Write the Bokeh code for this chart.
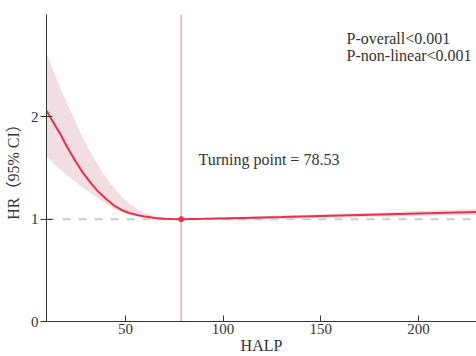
from bokeh.plotting import figure
from bokeh.models import Span, Range1d, FixedTicker, Label
from bokeh.embed import file_html
from bokeh.resources import INLINE

halp = [9.6, 13, 17, 20, 24, 28, 32, 36, 40, 44, 48, 52, 56, 60, 65, 70, 74, 78.53,
        90, 110, 130, 150, 170, 190, 210, 229.7]
hr = [2.06, 1.95, 1.82, 1.71, 1.58, 1.46, 1.36, 1.27, 1.20, 1.135, 1.09, 1.06, 1.04, 1.025,
      1.012, 1.005, 1.001, 1.0, 1.004, 1.012, 1.02, 1.03, 1.04, 1.05, 1.06, 1.07]
upper = [2.62, 2.45, 2.27, 2.14, 1.97, 1.80, 1.66, 1.53, 1.41, 1.31, 1.22, 1.15, 1.10, 1.06,
         1.03, 1.015, 1.005, 1.0, 1.01, 1.022, 1.035, 1.048, 1.06, 1.073, 1.087, 1.10]
lower = [1.61, 1.55, 1.48, 1.43, 1.37, 1.31, 1.26, 1.20, 1.15, 1.10, 1.07, 1.04, 1.025, 1.01,
         1.0, 0.995, 0.998, 1.0, 0.998, 1.0, 1.005, 1.012, 1.02, 1.027, 1.033, 1.04]
turning_point = 78.53
x_ticks = [50, 100, 150, 200]
y_ticks = [0, 1, 2]

FONT = "Liberation Serif"
LABEL_FONT = "'Liberation Serif', 'Noto Sans CJK SC'"

p = figure(width=476, height=356, output_backend="svg", toolbar_location=None,
           x_range=Range1d(9.6, 229.7), y_range=Range1d(0, 3.0),
           min_border_left=46, min_border_right=0, min_border_top=14, min_border_bottom=35)
p.outline_line_color = None
p.grid.visible = False
p.background_fill_color = "white"

p.add_layout(Span(location=1, dimension="width", line_color="#cccccc",
                  line_dash="8 8", line_width=2, level="underlay"))
p.add_layout(Span(location=turning_point, dimension="height", line_color="#eba2c8",
                  line_width=1.5, level="underlay"))
p.varea(x=halp, y1=lower, y2=upper, fill_color="#e6c3cb", fill_alpha=0.55)
p.line(halp, hr, line_color="#e8304a", line_width=2)
p.scatter([turning_point], [1.0], size=5, fill_color="#e8304a", line_color="#e8304a")

p.add_layout(Label(x=87.4, y=1.58, text="Turning point = 78.53", text_font=FONT,
                   text_font_size="16px", text_color="#333333", text_baseline="middle"))
p.add_layout(Label(x=163.2, y=2.77, text="P-overall<0.001", text_font=FONT,
                   text_font_size="16px", text_color="#333333", text_baseline="middle"))
p.add_layout(Label(x=163.2, y=2.60, text="P-non-linear<0.001", text_font=FONT,
                   text_font_size="16px", text_color="#333333", text_baseline="middle"))

for ax in (p.xaxis, p.yaxis):
    ax.axis_line_color = "#333333"
    ax.major_tick_line_color = "#333333"
    ax.minor_tick_line_color = None
    ax.major_label_text_font = FONT
    ax.major_label_text_font_size = "15px"
    ax.major_label_text_color = "#333333"
    ax.axis_label_text_font = LABEL_FONT
    ax.axis_label_text_font_size = "16px"
    ax.axis_label_text_font_style = "normal"
    ax.axis_label_text_color = "#333333"

p.xaxis.ticker = FixedTicker(ticks=x_ticks)
p.yaxis.ticker = FixedTicker(ticks=y_ticks)
p.xaxis.major_tick_in = 6
p.xaxis.major_tick_out = 0
p.yaxis.major_tick_in = 6
p.yaxis.major_tick_out = 6
p.xaxis.major_label_standoff = 2
p.xaxis.axis_label_standoff = 0
p.yaxis.major_label_standoff = 2
p.yaxis.axis_label_standoff = 6
p.xaxis.axis_label = "HALP"
p.yaxis.axis_label = "HR（95% CI）"

open("out.html", "w").write(file_html(p, INLINE))
